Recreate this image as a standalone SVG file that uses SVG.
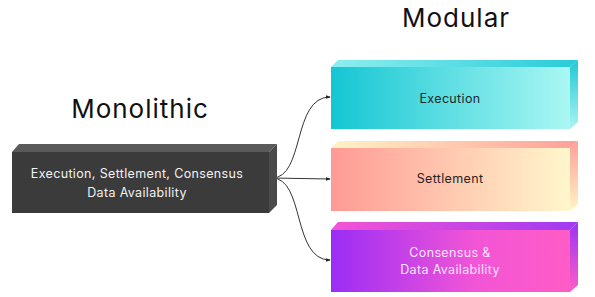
<svg xmlns="http://www.w3.org/2000/svg" width="595" height="297" viewBox="0 0 595 297">
<defs>
<linearGradient id="gExecF" x1="0" x2="1" y1="0" y2="0"><stop offset="0" stop-color="#14c6d3"/><stop offset="1" stop-color="#abf7f3"/></linearGradient>
<linearGradient id="gExecT" x1="0" x2="1" y1="0" y2="0"><stop offset="0" stop-color="#8eeef0"/><stop offset="1" stop-color="#28ccd8"/></linearGradient>
<linearGradient id="gExecS" x1="0" x2="0" y1="0" y2="1"><stop offset="0" stop-color="#20c8d4"/><stop offset="1" stop-color="#aaf4f2"/></linearGradient>
<linearGradient id="gSetF" x1="0" x2="1" y1="0" y2="0"><stop offset="0" stop-color="#ff9a94"/><stop offset="1" stop-color="#fff7cc"/></linearGradient>
<linearGradient id="gSetT" x1="0" x2="1" y1="0" y2="0"><stop offset="0" stop-color="#fff3c4"/><stop offset="1" stop-color="#ff9f98"/></linearGradient>
<linearGradient id="gSetS" x1="0" x2="0" y1="0" y2="1"><stop offset="0" stop-color="#ffa09a"/><stop offset="1" stop-color="#fff4c6"/></linearGradient>
<linearGradient id="gConF" x1="0" x2="1" y1="0" y2="0"><stop offset="0" stop-color="#9a2df6"/><stop offset="0.6" stop-color="#f255d6"/><stop offset="1" stop-color="#ff5cc6"/></linearGradient>
<linearGradient id="gConT" x1="0" x2="1" y1="0" y2="0"><stop offset="0" stop-color="#f454d4"/><stop offset="1" stop-color="#a03af2"/></linearGradient>
<linearGradient id="gConS" x1="0" x2="0" y1="0" y2="1"><stop offset="0" stop-color="#9b35f2"/><stop offset="1" stop-color="#ff5cc6"/></linearGradient>
<marker id="arr" viewBox="0 0 6 6" refX="5" refY="3" markerWidth="5" markerHeight="5" orient="auto"><path d="M0,0.8 L6,3 L0,5.2 Z" fill="#222"/></marker>
</defs>
<style>
.h{font-family:Inter,"Liberation Sans",sans-serif;font-size:26px;letter-spacing:1px;fill:#111;text-anchor:middle}
.t{font-family:Inter,"Liberation Sans",sans-serif;font-size:12.5px;letter-spacing:0.35px;text-anchor:middle}
.c{fill:none;stroke:#333;stroke-width:1}
</style>
<rect width="595" height="297" fill="#fff"/>
<text class="h" x="140" y="118">Monolithic</text>
<text class="h" x="456" y="27">Modular</text>
<g id="connectors">
<path class="c" d="M272,178 C305,178 292,97 330,97" marker-end="url(#arr)"/>
<path class="c" d="M272,178 L330,179" marker-end="url(#arr)"/>
<path class="c" d="M272,178 C305,178 292,260 330,260" marker-end="url(#arr)"/>
</g>
<g id="monolithic">
<polygon points="12,152 19,144 277,144 269,152" fill="#5a5a5a"/>
<polygon points="269,152 277,144 277,205 269,213" fill="#4a4a4a"/>
<rect x="12" y="152" width="257" height="61" fill="#3b3b3b"/>
<text class="t" x="137" y="178" fill="#f2f2f2">Execution, Settlement, Consensus</text>
<text class="t" x="137" y="197" fill="#f2f2f2">Data Availability</text>
</g>
<g id="execution">
<polygon points="331,67 338,60 578,60 570,67" fill="url(#gExecT)"/>
<polygon points="570,67 578,60 578,122 570,129" fill="url(#gExecS)"/>
<rect x="331" y="67" width="239" height="62" fill="url(#gExecF)"/>
<text class="t" x="450" y="103" fill="#1c2a2c">Execution</text>
</g>
<g id="settlement">
<polygon points="331,148 338,141 578,141 570,148" fill="url(#gSetT)"/>
<polygon points="570,148 578,141 578,204 570,211" fill="url(#gSetS)"/>
<rect x="331" y="148" width="239" height="63" fill="url(#gSetF)"/>
<text class="t" x="450" y="183" fill="#2a2222">Settlement</text>
</g>
<g id="consensus">
<polygon points="331,230 338,222 578,222 570,230" fill="url(#gConT)"/>
<polygon points="570,230 578,222 578,285 570,292" fill="url(#gConS)"/>
<rect x="331" y="230" width="239" height="62" fill="url(#gConF)"/>
<text class="t" x="450" y="257" fill="#f6e4ff">Consensus &amp;</text>
<text class="t" x="450" y="274" fill="#f6e4ff">Data Availability</text>
</g>
</svg>
